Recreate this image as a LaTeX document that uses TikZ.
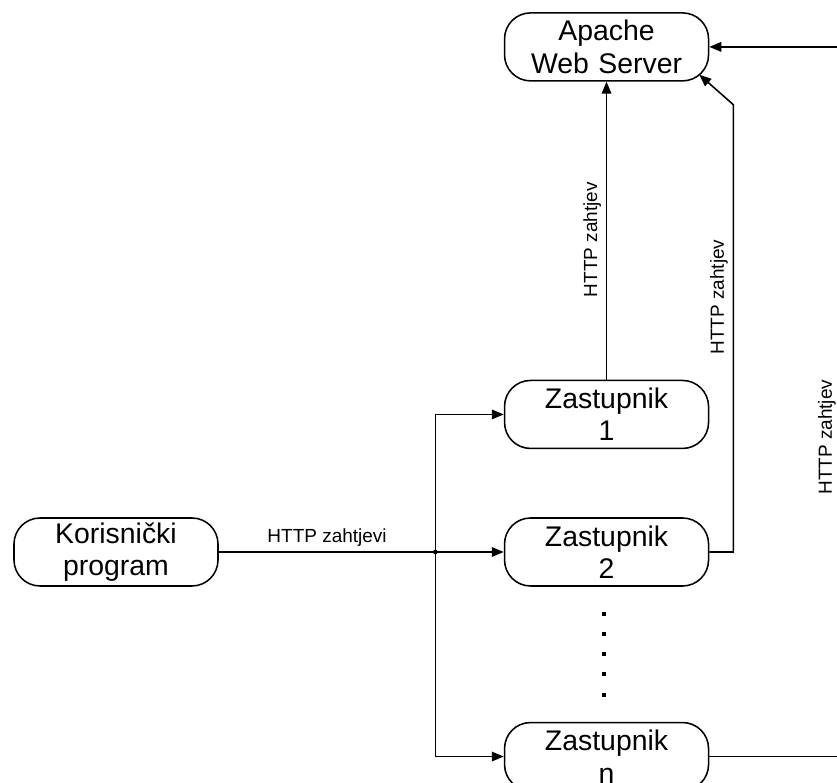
\documentclass[tikz,border=0pt]{standalone}
\usepackage{fontspec}
\setmainfont{Liberation Sans}
\usetikzlibrary{positioning,calc,arrows.meta}

\begin{document}
\begin{tikzpicture}[node distance=1.7cm, line width=1.1pt, >={Triangle[length=0.3cm,width=0.24cm]},
        block/.style={rectangle, draw, text width=4.6cm, align=center, rounded corners=0.65cm, minimum width=5.1cm, minimum height=1.7cm, inner sep=0pt, font=\fontsize{20.2}{23}\selectfont},
        lbl/.style={font=\fontsize{13.5}{15}\selectfont}]

        \useasboundingbox (-2.9,-5.775) rectangle (18.025,13.8);
        \clip (-2.9,-5.775) rectangle (18.025,13.8);

        \node [block] (kor) {Korisnički\\program};
        \node [block, right=7.125cm of kor] (z2) {Zastupnik\\2};
        \node [block, above=of z2] (z1) {Zastupnik\\1};
        \node [block, below=3.375cm of z2] (zn) {Zastupnik\\n};
        \node [block, above=7.45cm of z1] (apache) {Apache\\Web Server};

        % requests from the client
        \coordinate (split) at ($(kor.east)!0.76!(z2.west)$);
        \path [draw, ->] (kor) -- node [lbl, above, pos=0.38] {HTTP zahtjevi} (z2);
        \fill (split) circle (0.06);
        \path [draw, ->] (split) |- (z1);
        \path [draw, ->] (split) |- (zn);

        % the dots between proxies
        \foreach \i in {0,...,4}
            \fill ($(z2.south)+(-0.11,-0.725-0.506*\i)$) rectangle ++(0.1,0.1);

        % requests to the server
        \path [draw, ->] (z1) -- node [lbl, rotate=90, above, pos=0.47] {HTTP zahtjev} (apache);

        \coordinate (bend) at ($(apache.south east)+(0.6,-0.575)$);
        \coordinate (turn) at (bend |- z2.east);
        \coordinate (tip) at ($(apache.south east)+(-0.25,0.175)$);
        \path [draw, ->] (z2.east) -- (turn) -- node [lbl, rotate=90, above, pos=0.57] {HTTP zahtjev} (bend) -- (tip);

        \coordinate (retn) at ($(zn.east)+(3.3,0)$);
        \coordinate (reta) at (retn |- apache.east);
        \path [draw, ->] (zn.east) -- (retn) -- node [lbl, rotate=90, above, pos=0.45] {HTTP zahtjev} (reta) -- (apache.east);
    \end{tikzpicture}
\end{document}
